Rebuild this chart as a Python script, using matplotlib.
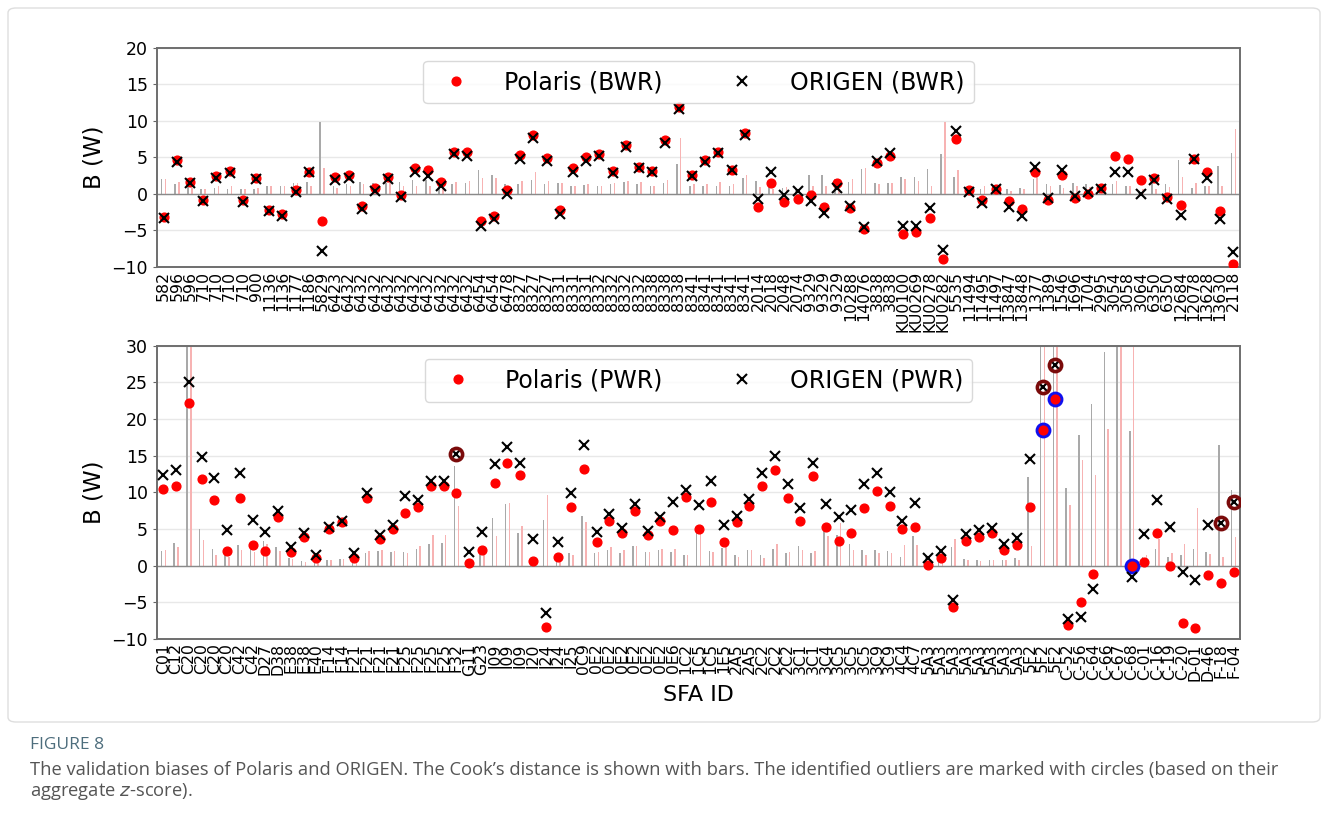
import numpy as np
import matplotlib.pyplot as plt
from matplotlib.patches import FancyBboxPatch

# ---------------- BWR (top panel) ----------------
bwr_ids = ['582', '596', '596', '710', '710', '710', '710', '900', '1136', '1136',
           '1177', '1186', '5829', '6423', '6432', '6432', '6432', '6432', '6432', '6432',
           '6432', '6432', '6432', '6432', '6454', '6454', '6478', '8327', '8327', '8327',
           '8331', '8331', '8331', '8332', '8332', '8332', '8332', '8338', '8338', '8338',
           '8341', '8341', '8341', '8341', '8341', '2014', '2018', '2048', '2074', '9329',
           '9329', '9329', '10288', '14076', '3838', '3838', 'KU0100', 'KU0269', 'KU0278', 'KU0282',
           '5535', '11494', '11495', '11497', '13847', '13848', '1377', '1389', '1546', '1696',
           '1704', '2995', '3054', '3058', '3064', '6350', '6350', '12684', '12078', '13628',
           '13630', '2118']
bwr_polaris = [-3.2, 4.6, 1.6, -0.9, 2.4, 3.1, -0.9, 2.1, -2.3, -2.8,
               0.5, 3.0, -3.7, 2.3, 2.5, -1.7, 0.8, 2.3, -0.2, 3.5,
               3.2, 1.6, 5.7, 5.7, -3.7, -3.0, 0.5, 5.3, 8.1, 4.9,
               -2.2, 3.5, 5.0, 5.4, 3.1, 6.6, 3.6, 3.1, 7.4, 11.9,
               2.5, 4.6, 5.7, 3.3, 8.3, -1.8, 1.5, -1.1, -0.7, -0.2,
               -1.8, 1.4, -2.0, -4.8, 4.2, 5.1, -5.5, -5.2, -3.4, -9.0,
               7.5, 0.5, -0.9, 0.7, -1.0, -2.1, 2.9, -0.8, 2.6, -0.6,
               -0.1, 0.8, 5.2, 4.7, 1.9, 2.2, -0.5, -1.5, 4.7, 2.9,
               -2.4, -9.6]
bwr_origen = [-3.4, 4.3, 1.4, -1.0, 2.2, 2.8, -1.1, 2.0, -2.4, -3.0,
              0.2, 2.9, -7.8, 1.9, 2.2, -2.1, 0.3, 2.0, -0.5, 2.9,
              2.4, 1.0, 5.4, 5.2, -4.4, -3.5, -0.1, 4.8, 7.6, 4.5,
              -2.8, 3.0, 4.5, 5.1, 2.8, 6.4, 3.5, 2.9, 7.0, 11.6,
              2.4, 4.4, 5.6, 3.2, 8.1, -0.7, 2.9, -0.2, 0.3, -1.0,
              -2.6, 0.8, -1.7, -4.6, 4.5, 5.6, -4.4, -4.4, -2.0, -7.7,
              8.6, 0.2, -1.3, 0.6, -1.8, -3.1, 3.7, -0.6, 3.2, -0.3,
              0.2, 0.7, 3.0, 2.9, 0.0, 1.9, -0.7, -2.9, 4.7, 2.2,
              -3.5, -8.0]
# Cook's distance (grey = ORIGEN, pink = Polaris)
bwr_cook_origen = [2.0, 1.3, 1.0, 0.6, 0.8, 0.7, 0.6, 0.7, 1.0, 1.1,
                   1.4, 1.6, 9.8, 1.0, 1.3, 1.6, 1.4, 1.4, 1.6, 1.9,
                   1.9, 1.0, 1.3, 1.4, 3.2, 2.5, 1.3, 1.3, 1.9, 1.3,
                   1.5, 1.0, 1.2, 1.1, 1.3, 1.6, 1.3, 1.1, 1.4, 4.0,
                   1.1, 1.0, 1.0, 1.0, 2.2, 1.7, 0.9, 0.8, 0.7, 2.5,
                   2.6, 2.0, 1.6, 3.4, 1.4, 1.5, 2.3, 2.3, 3.4, 5.4,
                   2.3, 0.6, 0.6, 1.0, 0.6, 0.8, 2.0, 1.3, 1.2, 1.4,
                   1.3, 1.2, 1.3, 1.0, 0.4, 2.3, 1.3, 4.6, 0.8, 1.1,
                   3.8, 5.6]
bwr_cook_polaris = [2.0, 1.6, 0.8, 0.6, 1.0, 1.0, 0.7, 0.8, 1.0, 1.0,
                    1.5, 1.0, 3.5, 0.8, 1.0, 1.3, 1.0, 1.4, 1.0, 1.0,
                    1.0, 1.0, 1.6, 1.7, 2.2, 2.2, 0.9, 1.8, 2.9, 1.7,
                    1.4, 1.1, 1.3, 1.0, 1.4, 1.8, 1.6, 1.0, 1.9, 7.6,
                    1.3, 1.3, 1.6, 1.3, 2.6, 0.9, 0.6, 0.9, 0.6, 1.0,
                    1.0, 1.7, 2.0, 3.5, 1.3, 1.4, 2.0, 1.7, 1.0, 9.8,
                    3.2, 0.8, 1.0, 0.8, 0.4, 0.7, 2.5, 1.0, 0.8, 1.0,
                    0.9, 1.2, 1.7, 1.0, 0.6, 0.7, 0.9, 2.3, 1.4, 1.0,
                    1.1, 8.8]

# ---------------- PWR (bottom panel) ----------------
pwr_ids = ['C01', 'C12', 'C20', 'C20', 'C20', 'C20', 'C42', 'C42', 'D27', 'D38',
           'E38', 'E38', 'E40', 'F14', 'F14', 'F21', 'F21', 'F21', 'F21', 'F25',
           'F25', 'F25', 'F25', 'F32', 'G11', 'G23', 'I09', 'I09', 'I09', 'I20',
           'I24', 'I24', 'I25', '0C9', '0E2', '0E2', '0E2', '0E2', '0E2', '0E2',
           '0E6', '1C2', '1C5', '1C5', '1E5', '2A5', '2A5', '2C2', '2C2', '2C2',
           '3C1', '3C1', '3C4', '3C5', '3C5', '3C5', '3C9', '3C9', '4C4', '4C7',
           '5A3', '5A3', '5A3', '5A3', '5A3', '5A3', '5A3', '5A3', '5F2', '5F2',
           '5F2', 'C-52', 'C-56', 'C-64', 'C-66', 'C-67', 'C-68', 'C-01', 'C-16', 'C-19',
           'C-20', 'D-01', 'D-46', 'F-18', 'F-04']
nan = np.nan
pwr_polaris = [10.5, 10.9, 22.2, 11.8, 9.0, 2.0, 9.2, 2.8, 2.0, 6.6,
               1.8, 3.9, 1.0, 5.0, 5.9, 1.0, 9.2, 3.7, 5.0, 7.2,
               8.0, 10.9, 10.8, 9.9, 0.4, 2.2, 11.3, 14.0, 12.4, 0.7,
               -8.3, 1.2, 8.0, 13.2, 3.2, 6.1, 4.4, 7.5, 4.2, 6.1,
               4.9, 9.3, 5.0, 8.7, 3.2, 6.0, 8.2, 10.9, 13.1, 9.2,
               6.1, 12.2, 5.3, 3.4, 4.4, 7.8, 10.2, 8.2, 5.0, 5.3,
               0.1, 1.1, -5.6, 3.4, 3.9, 4.4, 2.2, 2.8, 8.0, 18.5,
               22.7, -8.1, -5.0, -1.2, nan, nan, 0.0, 0.5, 4.5, -0.1,
               -7.8, -8.5, -1.3, -2.4, -0.9]
pwr_origen = [12.4, 13.0, 25.0, 14.8, 12.0, 4.9, 12.6, 6.2, 4.6, 7.5,
              2.5, 4.5, 1.4, 5.3, 6.1, 1.7, 9.9, 4.2, 5.6, 9.5,
              9.0, 11.5, 11.5, 15.2, 1.9, 4.6, 13.9, 16.2, 14.0, 3.6,
              -6.4, 3.2, 9.9, 16.4, 4.6, 7.0, 5.2, 8.4, 4.7, 6.7,
              8.7, 10.3, 8.3, 11.5, 5.5, 6.8, 9.1, 12.7, 15.0, 11.1,
              7.9, 14.0, 8.4, 6.6, 7.6, 11.1, 12.7, 10.0, 6.1, 8.6,
              1.0, 2.0, -4.7, 4.3, 4.9, 5.2, 3.0, 3.8, 14.5, 24.3,
              27.3, -7.3, -7.0, -3.2, nan, nan, -1.6, 4.3, 9.0, 5.3,
              -0.8, -2.0, 5.5, 5.8, 8.7]
pwr_cook_origen = [2.0, 3.1, 40.0, 5.0, 2.3, 1.5, 2.8, 2.4, 3.4, 2.5,
                   1.0, 0.7, 0.5, 0.8, 0.9, 1.0, 1.7, 2.0, 1.8, 1.8,
                   2.3, 3.0, 3.1, 13.6, 0.8, 1.8, 6.5, 8.4, 4.5, 0.8,
                   6.2, 0.8, 1.7, 6.8, 1.7, 2.2, 1.7, 2.7, 1.8, 2.2,
                   1.8, 1.5, 4.6, 2.0, 2.4, 1.5, 2.2, 1.5, 2.3, 1.7,
                   2.7, 1.7, 4.9, 4.2, 3.0, 2.1, 2.1, 2.0, 1.2, 4.0,
                   1.5, 1.0, 2.6, 0.9, 0.8, 0.8, 0.8, 1.1, 12.1, 40.0,
                   40.0, 10.6, 17.8, 22.0, 29.1, 40.0, 18.4, 1.2, 2.3, 1.2,
                   1.5, 2.3, 1.8, 16.5, 10.3]
pwr_cook_polaris = [2.1, 2.6, 40.0, 3.5, 1.5, 1.2, 2.1, 1.9, 3.0, 2.0,
                    0.9, 0.5, 0.5, 0.8, 0.9, 1.2, 2.0, 2.1, 2.0, 1.7,
                    2.7, 4.2, 4.2, 8.1, 0.5, 1.7, 4.0, 8.6, 5.4, 0.5,
                    9.6, 0.5, 1.5, 5.9, 1.9, 2.5, 2.2, 2.7, 1.9, 2.3,
                    2.3, 1.4, 4.9, 1.8, 2.5, 1.2, 2.2, 1.0, 3.0, 1.8,
                    2.1, 2.0, 4.0, 5.8, 2.2, 1.5, 1.7, 1.7, 2.8, 2.8,
                    0.8, 1.2, 3.7, 0.8, 0.7, 0.8, 0.8, 0.8, 2.7, 40.0,
                    40.0, 8.3, 14.4, 12.4, 18.7, 40.0, 40.0, 1.5, 3.6, 1.7,
                    3.0, 7.8, 1.6, 1.2, 3.9]
# outliers (0-based positions in the PWR lists)
pwr_outliers_origen = [23, 69, 70, 83, 84]
pwr_outliers_polaris = [69, 70, 76]


def draw_panel(ax, ids, polaris, origen, cook_o, cook_p, ylim, yticks, tag,
               out_o=(), out_p=()):
    x = np.arange(len(ids))
    polaris = np.array(polaris, dtype=float)
    origen = np.array(origen, dtype=float)
    ax.bar(x - 0.15, cook_o, width=0.12, color='#a9a9a9', zorder=1)
    ax.bar(x + 0.15, cook_p, width=0.12, color='#f7b3b3', zorder=1)
    ax.axhline(0, color='#8a8a8a', lw=1.0, zorder=1.5)
    ax.plot(x, polaris, 'o', color='red', ms=6.3, ls='none', zorder=3,
            label='Polaris (%s)' % tag)
    ax.plot(x, origen, 'x', color='black', ms=6.5, mew=1.5, ls='none', zorder=4,
            label='ORIGEN (%s)' % tag)
    if len(out_p):
        out_p = list(out_p)
        ax.plot(x[out_p], polaris[out_p], 'o', ms=8.8, mfc='none', mec='#1010ee',
                mew=2.6, ls='none', zorder=2.8)
    if len(out_o):
        out_o = list(out_o)
        ax.plot(x[out_o], origen[out_o], 'o', ms=8.8, mfc='none', mec='#7a0a0a',
                mew=2.6, ls='none', zorder=5)
    ax.set_xlim(-0.5, len(ids) - 0.5)
    ax.set_ylim(ylim)
    ax.set_yticks(yticks)
    ax.set_xticks(x)
    ax.set_xticklabels(ids, rotation=90, fontsize=11.3)
    ax.tick_params(axis='x', length=0, pad=3)
    ax.tick_params(axis='y', labelsize=12.5, length=3, color='#666666')
    ax.grid(axis='y', color='#e8e8e8', lw=1.0)
    ax.set_axisbelow(True)
    for s in ax.spines.values():
        s.set_color('#6e6e6e')
        s.set_linewidth(1.4)
    ax.set_ylabel('B (W)', fontsize=16.5)
    leg = ax.legend(loc='upper center', ncol=2, fontsize=17, frameon=True,
                    fancybox=True, edgecolor='#d0d0d0', columnspacing=2.4,
                    handletextpad=1.0, borderpad=0.4, borderaxespad=0.55)
    leg.get_frame().set_linewidth(1.0)
    return ax


fig = plt.figure(figsize=(13.28, 8.18), dpi=100, facecolor='white')

# light border around the figure panel
fig.patches.append(FancyBboxPatch((8 / 1328, 1 - 722 / 818), 1312 / 1328, 714 / 818,
                                  boxstyle='round,pad=0,rounding_size=0.006',
                                  transform=fig.transFigure, fill=False,
                                  edgecolor='#dedede', lw=1.0))

ax1 = fig.add_axes([157 / 1328, 1 - 266.7 / 818, 1083 / 1328, 219.1 / 818])
draw_panel(ax1, bwr_ids, bwr_polaris, bwr_origen, bwr_cook_origen, bwr_cook_polaris,
           (-10, 20), np.arange(-10, 21, 5), 'BWR')

ax2 = fig.add_axes([157 / 1328, 1 - 639 / 818, 1083 / 1328, 293.3 / 818])
draw_panel(ax2, pwr_ids, pwr_polaris, pwr_origen, pwr_cook_origen, pwr_cook_polaris,
           (-10, 30), np.arange(-10, 31, 5), 'PWR',
           out_o=pwr_outliers_origen, out_p=pwr_outliers_polaris)
ax2.set_xlabel('SFA ID', fontsize=16, labelpad=3)

# caption
fig.text(30 / 1328, 1 - 745 / 818, 'FIGURE 8', fontsize=12.5, color='#4d6d7c',
         va='center', ha='left', family='Open Sans')
fig.text(30 / 1328, 1 - 770 / 818,
         'The validation biases of Polaris and ORIGEN. The Cook\u2019s distance is shown with bars. '
         'The identified outliers are marked with circles (based on their',
         fontsize=13.2, color='#555555', va='center', ha='left', family='Open Sans')
fig.text(30 / 1328, 1 - 792 / 818, 'aggregate $z$-score).',
         fontsize=13.2, color='#555555', va='center', ha='left', family='Open Sans')

fig.savefig('out.png', dpi=100)
